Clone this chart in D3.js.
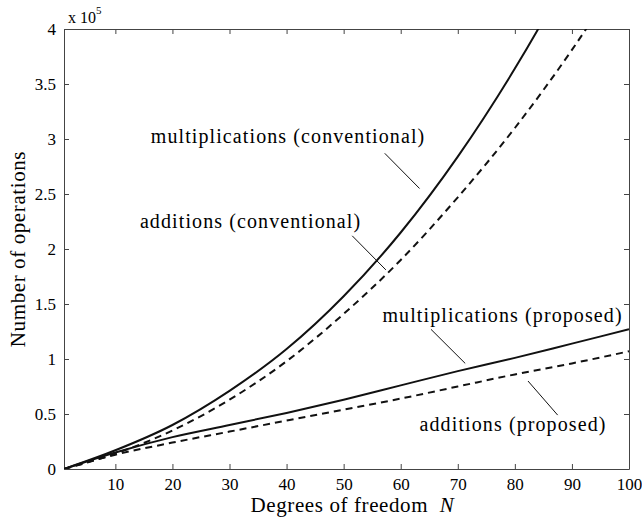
<!DOCTYPE html>
<html>
<head>
<meta charset="utf-8">
<script src="https://cdn.jsdelivr.net/npm/d3@7"></script>
<style>
  body { margin: 0; background: white; }
  text { font-family: "Liberation Serif", "Times New Roman", serif; fill: #000; }
</style>
</head>
<body>
<script>
// degrees of freedom N, and operation counts in units of 1e5
const nValues  = [1, 10, 20, 30, 40, 50, 60, 70, 80, 90, 100];
const multConv = [0, 0.17, 0.40, 0.71, 1.09, 1.57, 2.15, 2.84, 3.64, 4.55, 5.55];
const addConv  = [0, 0.14, 0.35, 0.63, 0.98, 1.41, 1.90, 2.47, 3.10, 3.81, 4.60];
const multProp = [0, 0.15, 0.29, 0.40, 0.51, 0.63, 0.76, 0.89, 1.01, 1.14, 1.27];
const addProp  = [0, 0.13, 0.24, 0.34, 0.44, 0.54, 0.64, 0.75, 0.86, 0.96, 1.07];

const xTicks = [10, 20, 30, 40, 50, 60, 70, 80, 90, 100];
const yTicks = [0, 0.5, 1, 1.5, 2, 2.5, 3, 3.5, 4];

const margin = {top: 29, right: 13, bottom: 55, left: 64};
const outerWidth = 642;
const outerHeight = 524;
const innerWidth = outerWidth - margin.left - margin.right;
const innerHeight = outerHeight - margin.top - margin.bottom;

const svg = d3.select("body").append("svg")
    .attr("width", outerWidth)
    .attr("height", outerHeight);

const g = svg.append("g")
    .attr("transform", "translate(" + margin.left + "," + margin.top + ")");

const x = d3.scaleLinear().domain([1, 100]).range([0, innerWidth]);
const y = d3.scaleLinear().domain([0, 4]).range([innerHeight, 0]);

g.append("clipPath").attr("id", "plotclip")
  .append("rect")
    .attr("width", innerWidth)
    .attr("height", innerHeight);

// box with inward ticks on all sides
const tickLen = 5;
g.append("g")
    .attr("transform", "translate(0," + innerHeight + ")")
    .call(d3.axisBottom(x).tickValues(xTicks).tickSizeInner(-tickLen).tickSizeOuter(0).tickPadding(9).tickFormat(d3.format("d")));
g.append("g")
    .call(d3.axisTop(x).tickValues(xTicks).tickSizeInner(-tickLen).tickSizeOuter(0).tickFormat(""));
g.append("g")
    .call(d3.axisLeft(y).tickValues(yTicks).tickSizeInner(-tickLen).tickSizeOuter(0).tickPadding(8).tickFormat(d => d));
g.append("g")
    .attr("transform", "translate(" + innerWidth + ",0)")
    .call(d3.axisRight(y).tickValues(yTicks).tickSizeInner(-tickLen).tickSizeOuter(0).tickFormat(""));

g.selectAll(".domain").attr("stroke", "#444").attr("stroke-width", 1);
g.selectAll(".tick line").attr("stroke", "#444");
g.selectAll(".tick text")
    .style("font-size", "17px")
    .style("font-family", "Liberation Serif, serif")
    .attr("fill", "#000");

// curves
const series = [
  {vals: multConv, dash: null},
  {vals: addConv, dash: "7,5"},
  {vals: multProp, dash: null},
  {vals: addProp, dash: "7,5"}
];

const line = d3.line()
    .x((d, i) => x(nValues[i]))
    .y(d => y(d))
    .curve(d3.curveMonotoneX);

g.append("g").attr("clip-path", "url(#plotclip)")
  .selectAll("path")
  .data(series)
  .join("path")
    .attr("d", d => line(d.vals))
    .attr("fill", "none")
    .attr("stroke", "#111")
    .attr("stroke-width", 2)
    .attr("stroke-dasharray", d => d.dash);

// annotations with leader lines (data coords)
const notes = [
  {text: "multiplications (conventional)", tx: 16.2, ty: 2.96, l: [[57.2, 2.87], [63.3, 2.55]]},
  {text: "additions (conventional)", tx: 14.3, ty: 2.19, l: [[51.5, 2.12], [57.4, 1.81]]},
  {text: "multiplications (proposed)", tx: 56.8, ty: 1.34, l: [[65.3, 1.27], [71.3, 0.96]]},
  {text: "additions (proposed)", tx: 63.3, ty: 0.35, l: [[82.3, 0.80], [87.5, 0.49]]}
];

g.selectAll(".note")
  .data(notes)
  .join("text")
    .attr("class", "note")
    .attr("x", d => x(d.tx))
    .attr("y", d => y(d.ty))
    .style("font-size", "20px")
    .style("letter-spacing", "1.1px")
    .text(d => d.text);

g.selectAll(".leader")
  .data(notes)
  .join("line")
    .attr("class", "leader")
    .attr("x1", d => x(d.l[0][0]))
    .attr("y1", d => y(d.l[0][1]))
    .attr("x2", d => x(d.l[1][0]))
    .attr("y2", d => y(d.l[1][1]))
    .attr("stroke", "#111")
    .attr("stroke-width", 1);

// exponent label
const expo = svg.append("text")
    .attr("x", margin.left + 4)
    .attr("y", 23)
    .style("font-size", "16px");
expo.append("tspan").text("x 10");
expo.append("tspan").attr("dy", -9).style("font-size", "11px").text("5");

// axis titles
const xt = svg.append("text")
    .attr("x", margin.left + innerWidth / 2 + 6)
    .attr("y", 512)
    .attr("text-anchor", "middle")
    .style("font-size", "21px")
    .style("letter-spacing", "0.6px");
xt.append("tspan").text("Degrees of freedom\u00a0\u00a0");
xt.append("tspan").style("font-style", "italic").text("N");

svg.append("text")
    .attr("transform", "translate(25," + (margin.top + innerHeight / 2) + ") rotate(-90)")
    .attr("text-anchor", "middle")
    .style("font-size", "21px")
    .style("letter-spacing", "0.6px")
    .text("Number of operations");
</script>
</body>
</html>
